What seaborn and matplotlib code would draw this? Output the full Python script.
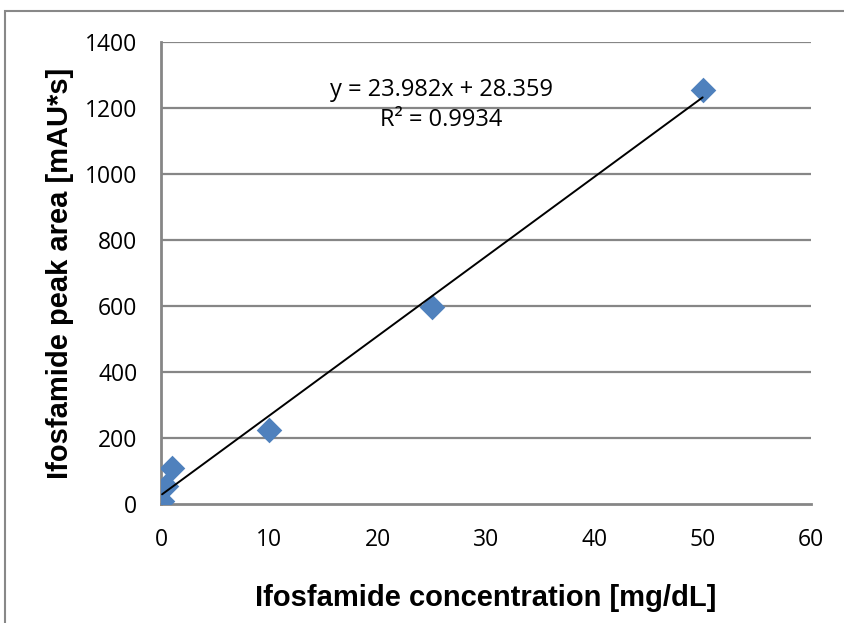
import matplotlib
matplotlib.use("Agg")
import matplotlib.pyplot as plt
import seaborn as sns
import pandas as pd
from matplotlib.patches import Rectangle

concentration = [0.1, 0.5, 1.0, 10.0, 25.0, 50.0]
peak_area = [8, 55, 109, 224, 597, 1256]
x_ticks = [0, 10, 20, 30, 40, 50, 60]
y_ticks = [0, 200, 400, 600, 800, 1000, 1200, 1400]
equation_text = "y = 23.982x + 28.359"
r2_text = "R² = 0.9934"
x_label = "Ifosfamide concentration [mg/dL]"
y_label = "Ifosfamide peak area [mAU*s]"

df = pd.DataFrame({"conc": concentration, "area": peak_area})

sns.set_theme(style="white")
plt.rcParams["font.family"] = ["Liberation Sans", "DejaVu Sans"]
plt.rcParams["text.color"] = "black"
plt.rcParams["axes.labelcolor"] = "black"

fig = plt.figure(figsize=(8.44, 6.23), dpi=100)
ax = fig.add_axes([161/844, 1-504/623, (811-161)/844, (504-42)/623])

grid_c = "#868686"
for yt in y_ticks[1:]:
    ax.axhline(yt, color=grid_c, lw=1.6, zorder=0)

sns.regplot(data=df, x="conc", y="area", ax=ax, ci=None, truncate=True,
            marker="D",
            scatter_kws=dict(s=170, color="#4F81BD", alpha=1, linewidths=0, zorder=3),
            line_kws=dict(color="black", lw=1.4, zorder=4))

ax.set_xlim(0, 60)
ax.set_ylim(0, 1400)
ax.set_xticks(x_ticks)
ax.set_yticks(y_ticks)
ax.tick_params(axis="both", direction="out", length=6, width=1.6, color=grid_c,
               labelsize=16.5, labelcolor="black")
ax.tick_params(axis="x", pad=11)
ax.tick_params(axis="y", pad=11)
for lbl in ax.get_xticklabels() + ax.get_yticklabels():
    lbl.set_family(["Open Sans", "DejaVu Sans"])
for s in ["top", "right"]:
    ax.spines[s].set_visible(False)
for s in ["left", "bottom"]:
    ax.spines[s].set_color(grid_c)
    ax.spines[s].set_linewidth(2)

ax.set_xlabel(x_label, fontsize=21, fontweight="bold", labelpad=23, color="black")
ax.set_ylabel(y_label, fontsize=21, fontweight="bold", labelpad=8, color="black")

ax.text(25.9, 1255, equation_text, fontsize=17, ha="center", va="center",
        family=["Open Sans", "DejaVu Sans"], color="black")
ax.text(25.9, 1165, r2_text, fontsize=17, ha="center", va="center",
        family=["Open Sans", "DejaVu Sans"], color="black")

fig.patches.append(Rectangle((5/844, -0.1), 1.2, 1-11/623+0.1, transform=fig.transFigure,
                             fill=False, edgecolor="#888888", lw=1.5, clip_on=False))

fig.savefig("out.png", dpi=100, facecolor="white")
